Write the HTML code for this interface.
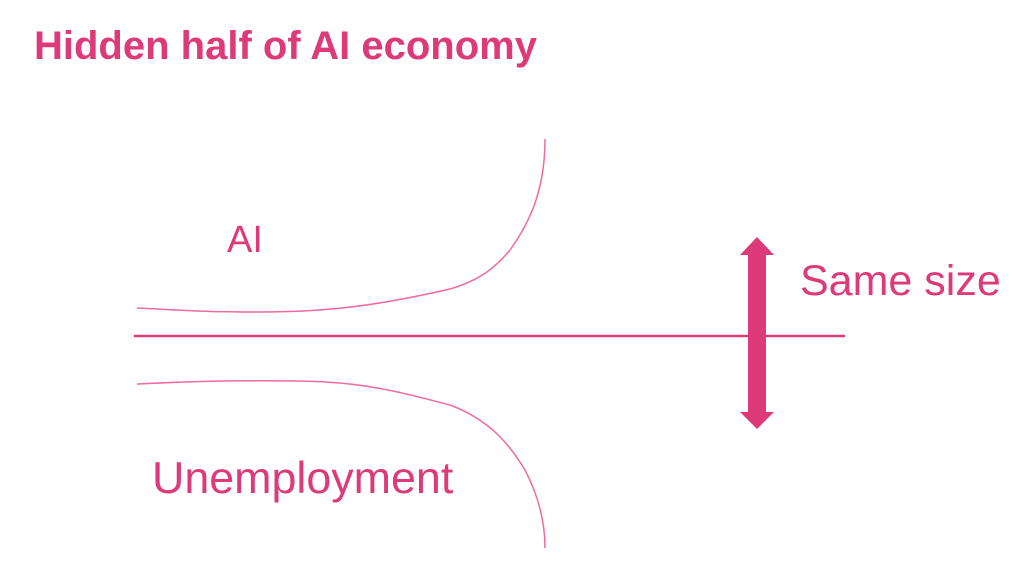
<!DOCTYPE html>
<html><head><meta charset="utf-8"><style>
html,body{margin:0;padding:0;background:#fff;}
svg{display:block;}
text{font-family:"Liberation Sans",Arial,sans-serif;fill:#dc3a78;}
</style></head><body>
<svg width="1024" height="563" viewBox="0 0 1024 563" xmlns="http://www.w3.org/2000/svg">
<text x="34" y="59" font-size="40" font-weight="bold">Hidden half of AI economy</text>
<text x="227" y="252" font-size="38">AI</text>
<text x="800" y="295" font-size="43">Same size</text>
<text x="152" y="493" font-size="44.8">Unemployment</text>
<line x1="134" y1="336" x2="845" y2="336" stroke="#dc3a78" stroke-width="2.5"/>
<path d="M137,308 C180,310 200,312 260,312 C330,312 380,305 450,289 C480,280 495,268 510,250 C530,222 545,190 545,139" fill="none" stroke="#f06aa0" stroke-width="1.5"/>
<path d="M137,384 C180,382 220,380 300,381 C370,382 410,395 450,405 C490,420 510,445 525,470 C538,495 545,520 545,548" fill="none" stroke="#f06aa0" stroke-width="1.5"/>
<polygon points="757,237 774,255 766,255 766,412 774,412 757,429 740,412 748,412 748,255 740,255" fill="#dc3a78"/>
</svg>
</body></html>
